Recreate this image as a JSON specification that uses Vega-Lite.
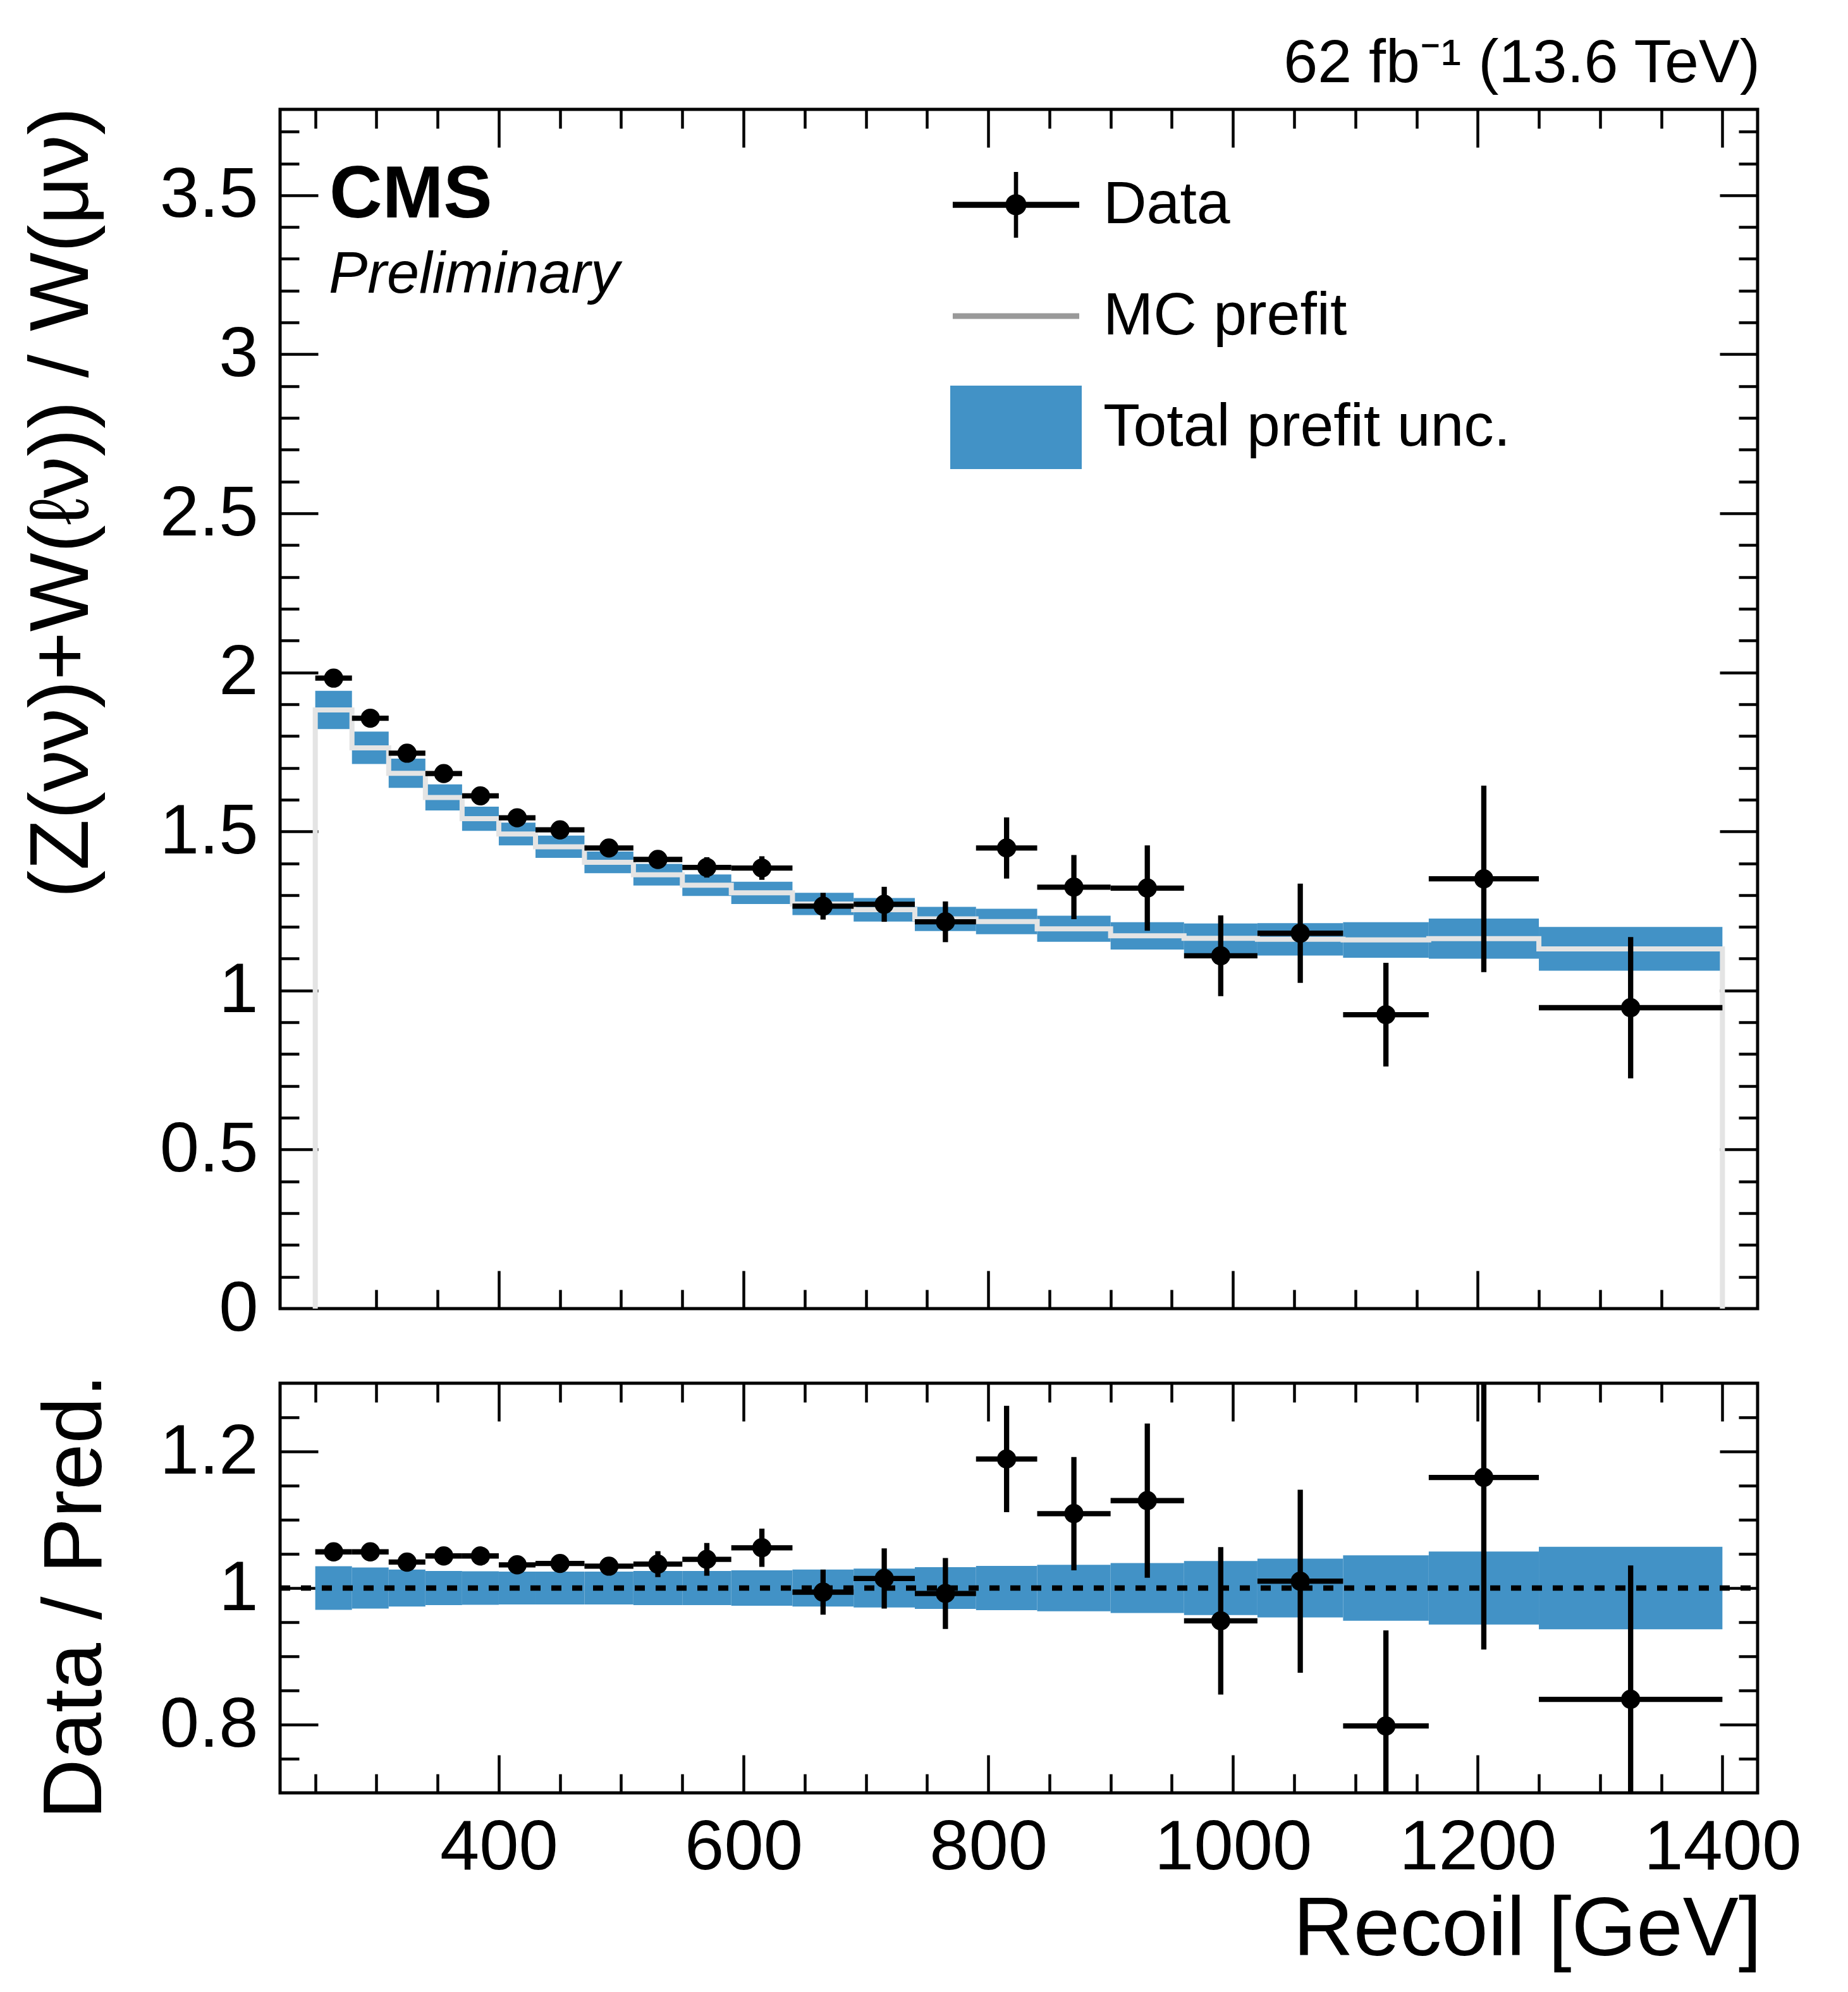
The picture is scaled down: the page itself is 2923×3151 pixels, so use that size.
{
  "$schema": "https://vega.github.io/schema/vega-lite/v6.json",
  "description": "Recoil distribution ratio (Z(nunu)+W(lnu))/W(munu) with data/prediction panel",
  "background": "white",
  "padding": {"left": 29, "top": 49, "right": 5, "bottom": 5},
  "config": {
    "font": "Liberation Sans",
    "view": {"stroke": "black", "strokeWidth": 5},
    "axis": {
      "grid": false, "domain": false, "tickColor": "black", "tickWidth": 4.5,
      "labelColor": "black", "titleColor": "black", "labelFont": "Liberation Sans", "titleFont": "Liberation Sans",
      "labelFontSize": 112, "titleFontSize": 132, "titleFontWeight": "normal", "labelFlush": false, "labelOverlap": false,
      "labelLimit": 0, "titleLimit": 0
    }
  },
  "datasets": {
    "bins": [
      {"lo":250,"hi":280,"x":265,"d":1.982,"dlo":1.974,"dhi":1.990,"p":1.882,"plo":1.822,"phi":1.942,"r":1.053,"rlo":1.049,"rhi":1.057,"ulo":0.968,"uhi":1.032},
      {"lo":280,"hi":310,"x":295,"d":1.856,"dlo":1.847,"dhi":1.865,"p":1.763,"plo":1.712,"phi":1.814,"r":1.053,"rlo":1.048,"rhi":1.058,"ulo":0.970,"uhi":1.030},
      {"lo":310,"hi":340,"x":325,"d":1.746,"dlo":1.736,"dhi":1.756,"p":1.683,"plo":1.637,"phi":1.729,"r":1.038,"rlo":1.032,"rhi":1.044,"ulo":0.973,"uhi":1.027},
      {"lo":340,"hi":370,"x":355,"d":1.682,"dlo":1.671,"dhi":1.693,"p":1.607,"plo":1.566,"phi":1.648,"r":1.047,"rlo":1.040,"rhi":1.054,"ulo":0.975,"uhi":1.025},
      {"lo":370,"hi":400,"x":385,"d":1.612,"dlo":1.600,"dhi":1.624,"p":1.540,"plo":1.502,"phi":1.578,"r":1.047,"rlo":1.039,"rhi":1.055,"ulo":0.9755,"uhi":1.0245},
      {"lo":400,"hi":430,"x":415,"d":1.543,"dlo":1.529,"dhi":1.557,"p":1.492,"plo":1.456,"phi":1.528,"r":1.034,"rlo":1.025,"rhi":1.043,"ulo":0.976,"uhi":1.024},
      {"lo":430,"hi":470,"x":450,"d":1.505,"dlo":1.490,"dhi":1.520,"p":1.452,"plo":1.417,"phi":1.487,"r":1.036,"rlo":1.026,"rhi":1.046,"ulo":0.976,"uhi":1.024},
      {"lo":470,"hi":510,"x":490,"d":1.448,"dlo":1.431,"dhi":1.465,"p":1.403,"plo":1.369,"phi":1.437,"r":1.032,"rlo":1.020,"rhi":1.044,"ulo":0.976,"uhi":1.024},
      {"lo":510,"hi":550,"x":530,"d":1.412,"dlo":1.386,"dhi":1.438,"p":1.364,"plo":1.330,"phi":1.398,"r":1.035,"rlo":1.016,"rhi":1.054,"ulo":0.975,"uhi":1.025},
      {"lo":550,"hi":590,"x":570,"d":1.387,"dlo":1.355,"dhi":1.419,"p":1.331,"plo":1.297,"phi":1.365,"r":1.042,"rlo":1.018,"rhi":1.066,"ulo":0.975,"uhi":1.025},
      {"lo":590,"hi":640,"x":615,"d":1.385,"dlo":1.348,"dhi":1.422,"p":1.307,"plo":1.272,"phi":1.342,"r":1.059,"rlo":1.031,"rhi":1.087,"ulo":0.974,"uhi":1.026},
      {"lo":640,"hi":690,"x":665,"d":1.265,"dlo":1.223,"dhi":1.307,"p":1.272,"plo":1.237,"phi":1.307,"r":0.994,"rlo":0.961,"rhi":1.027,"ulo":0.973,"uhi":1.027},
      {"lo":690,"hi":740,"x":715,"d":1.271,"dlo":1.216,"dhi":1.326,"p":1.254,"plo":1.217,"phi":1.291,"r":1.014,"rlo":0.970,"rhi":1.058,"ulo":0.9715,"uhi":1.0285},
      {"lo":740,"hi":790,"x":765,"d":1.216,"dlo":1.152,"dhi":1.280,"p":1.225,"plo":1.187,"phi":1.263,"r":0.992,"rlo":0.940,"rhi":1.044,"ulo":0.9695,"uhi":1.0305},
      {"lo":790,"hi":840,"x":815,"d":1.448,"dlo":1.352,"dhi":1.544,"p":1.217,"plo":1.177,"phi":1.257,"r":1.189,"rlo":1.111,"rhi":1.267,"ulo":0.9675,"uhi":1.0325},
      {"lo":840,"hi":900,"x":870,"d":1.325,"dlo":1.224,"dhi":1.426,"p":1.194,"plo":1.153,"phi":1.235,"r":1.109,"rlo":1.026,"rhi":1.192,"ulo":0.966,"uhi":1.034},
      {"lo":900,"hi":960,"x":930,"d":1.322,"dlo":1.188,"dhi":1.456,"p":1.172,"plo":1.129,"phi":1.215,"r":1.128,"rlo":1.015,"rhi":1.241,"ulo":0.9635,"uhi":1.0365},
      {"lo":960,"hi":1020,"x":990,"d":1.109,"dlo":0.982,"dhi":1.236,"p":1.164,"plo":1.117,"phi":1.211,"r":0.952,"rlo":0.844,"rhi":1.060,"ulo":0.9605,"uhi":1.0395},
      {"lo":1020,"hi":1090,"x":1055,"d":1.180,"dlo":1.024,"dhi":1.336,"p":1.161,"plo":1.110,"phi":1.212,"r":1.010,"rlo":0.876,"rhi":1.144,"ulo":0.957,"uhi":1.043},
      {"lo":1090,"hi":1160,"x":1125,"d":0.924,"dlo":0.761,"dhi":1.087,"p":1.159,"plo":1.103,"phi":1.215,"r":0.798,"rlo":0.658,"rhi":0.938,"ulo":0.952,"uhi":1.048},
      {"lo":1160,"hi":1250,"x":1205,"d":1.351,"dlo":1.058,"dhi":1.644,"p":1.163,"plo":1.100,"phi":1.226,"r":1.162,"rlo":0.910,"rhi":1.414,"ulo":0.9465,"uhi":1.0535},
      {"lo":1250,"hi":1400,"x":1325,"d":0.946,"dlo":0.724,"dhi":1.168,"p":1.131,"plo":1.062,"phi":1.200,"r":0.837,"rlo":0.641,"rhi":1.033,"ulo":0.9395,"uhi":1.0605}
    ],
    "mc": [
      {"i":0,"x":250,"y":0},
      {"i":1,"x":250,"y":1.882},
      {"i":2,"x":280,"y":1.763},
      {"i":3,"x":310,"y":1.683},
      {"i":4,"x":340,"y":1.607},
      {"i":5,"x":370,"y":1.540},
      {"i":6,"x":400,"y":1.492},
      {"i":7,"x":430,"y":1.452},
      {"i":8,"x":470,"y":1.403},
      {"i":9,"x":510,"y":1.364},
      {"i":10,"x":550,"y":1.331},
      {"i":11,"x":590,"y":1.307},
      {"i":12,"x":640,"y":1.272},
      {"i":13,"x":690,"y":1.254},
      {"i":14,"x":740,"y":1.225},
      {"i":15,"x":790,"y":1.217},
      {"i":16,"x":840,"y":1.194},
      {"i":17,"x":900,"y":1.172},
      {"i":18,"x":960,"y":1.164},
      {"i":19,"x":1020,"y":1.161},
      {"i":20,"x":1090,"y":1.159},
      {"i":21,"x":1160,"y":1.163},
      {"i":22,"x":1250,"y":1.131},
      {"i":23,"x":1400,"y":1.131},
      {"i":24,"x":1400,"y":0}
    ]
  },
  "resolve": {"scale": {"x": "independent", "y": "independent"}, "legend": {"color": "independent"}},
  "spacing": 41,
  "vconcat": [
    {
      "width": 2337,
      "height": 1897,
      "title": {
        "text": "62 fb⁻¹ (13.6 TeV)", "anchor": "end", "frame": "group", "orient": "top",
        "offset": -58, "dx": 4, "baseline": "alphabetic", "fontSize": 97, "fontWeight": "normal",
        "font": "Liberation Sans", "color": "black"
      },
      "resolve": {"axis": {"x": "independent", "y": "independent"}},
      "layer": [
        {
          "data": {"name": "bins"},
          "mark": {"type": "rect"},
          "encoding": {
            "x": {"field": "lo", "type": "quantitative", "scale": {"domain": [221.25, 1428.75], "nice": false, "zero": false},
                  "axis": {"orient": "bottom", "values": [400, 600, 800, 1000, 1200, 1400], "labels": false, "tickSize": -60, "title": null}},
            "x2": {"field": "hi"},
            "y": {"field": "plo", "type": "quantitative", "scale": {"domain": [0, 3.77], "nice": false, "zero": false},
                  "axis": {"orient": "left", "values": [0, 0.5, 1, 1.5, 2, 2.5, 3, 3.5], "ticks": false, "labelPadding": 35, "format": "~g",
                           "title": "(Z(νν)+W(ℓν)) / W(μν)", "titleAnchor": "end", "titleAngle": 270, "titleAlign": "right",
                           "titleBaseline": "alphabetic", "titleX": -305, "titleY": -4}},
            "y2": {"field": "phi"},
            "color": {
              "datum": "Total prefit unc.", "type": "nominal",
              "scale": {"domain": ["Data", "MC prefit", "Total prefit unc."], "range": ["black", "#999999", "#4292c6"]},
              "legend": {
                "title": null, "orient": "none", "legendX": 1060, "legendY": 63, "padding": 0,
                "symbolSize": 43264, "symbolStrokeWidth": 0, "clipHeight": 176, "rowPadding": 0, "labelOffset": 34,
                "labelFont": "Liberation Sans", "labelFontSize": 95, "labelColor": "black", "labelLimit": 0,
                "encode": {
                  "symbols": {
                    "update": {
                      "shape": {"signal": "datum.value === 'Data' ? 'M-0.962,-0.045L0.962,-0.045L0.962,0.045L-0.962,0.045ZM-0.032,-0.5L0.032,-0.5L0.032,0.5L-0.032,0.5ZM0.16,0A0.16,0.16,0,1,1,-0.16,0A0.16,0.16,0,1,1,0.16,0Z' : datum.value === 'MC prefit' ? 'M-0.962,-0.043L0.962,-0.043L0.962,0.043L-0.962,0.043Z' : 'M-1,-0.635L1,-0.635L1,0.635L-1,0.635Z'"},
                      "fill": {"signal": "datum.value === 'Data' ? 'black' : datum.value === 'MC prefit' ? '#999999' : '#4292c6'"},
                      "stroke": {"value": "transparent"},
                      "strokeWidth": {"value": 0},
                      "opacity": {"value": 1},
                      "size": {"value": 43264}
                    }
                  }
                }
              }
            }
          }
        },
        {
          "data": {"name": "mc"},
          "mark": {"type": "line", "interpolate": "step-after", "strokeWidth": 8},
          "encoding": {
            "x": {"field": "x", "type": "quantitative",
                  "axis": {"orient": "bottom", "values": [250, 300, 350, 450, 500, 550, 650, 700, 750, 850, 900, 950, 1050, 1100, 1150, 1250, 1300, 1350], "labels": false, "tickSize": -30, "title": null}},
            "y": {"field": "y", "type": "quantitative",
                  "axis": {"orient": "left", "values": [0.5, 1, 1.5, 2, 2.5, 3, 3.5], "labels": false, "tickSize": -60, "title": null}},
            "order": {"field": "i"},
            "color": {"datum": "MC prefit", "type": "nominal"},
            "stroke": {"value": "#e4e4e4"}
          }
        },
        {
          "data": {"name": "bins"},
          "mark": {"type": "rule", "strokeWidth": 8.3, "color": "black"},
          "encoding": {
            "x": {"field": "lo", "type": "quantitative",
                  "axis": {"orient": "top", "values": [400, 600, 800, 1000, 1200, 1400], "labels": false, "tickSize": -60, "title": null}},
            "x2": {"field": "hi"},
            "y": {"field": "d", "type": "quantitative",
                  "axis": {"orient": "left", "values": [0.1, 0.2, 0.3, 0.4, 0.6, 0.7, 0.8, 0.9, 1.1, 1.2, 1.3, 1.4, 1.6, 1.7, 1.8, 1.9, 2.1, 2.2, 2.3, 2.4, 2.6, 2.7, 2.8, 2.9, 3.1, 3.2, 3.3, 3.4, 3.6, 3.7], "labels": false, "tickSize": -30, "title": null}}
          }
        },
        {
          "data": {"name": "bins"},
          "mark": {"type": "rule", "strokeWidth": 8.3, "color": "black"},
          "encoding": {
            "x": {"field": "x", "type": "quantitative",
                  "axis": {"orient": "top", "values": [250, 300, 350, 450, 500, 550, 650, 700, 750, 850, 900, 950, 1050, 1100, 1150, 1250, 1300, 1350], "labels": false, "tickSize": -30, "title": null}},
            "y": {"field": "dlo", "type": "quantitative",
                  "axis": {"orient": "right", "values": [0.5, 1, 1.5, 2, 2.5, 3, 3.5], "labels": false, "tickSize": -60, "title": null}},
            "y2": {"field": "dhi"}
          }
        },
        {
          "data": {"name": "bins"},
          "mark": {"type": "point", "filled": true, "size": 920, "opacity": 1, "shape": "circle"},
          "encoding": {
            "x": {"field": "x", "type": "quantitative", "axis": null},
            "y": {"field": "d", "type": "quantitative",
                  "axis": {"orient": "right", "values": [0.1, 0.2, 0.3, 0.4, 0.6, 0.7, 0.8, 0.9, 1.1, 1.2, 1.3, 1.4, 1.6, 1.7, 1.8, 1.9, 2.1, 2.2, 2.3, 2.4, 2.6, 2.7, 2.8, 2.9, 3.1, 3.2, 3.3, 3.4, 3.6, 3.7], "labels": false, "tickSize": -30, "title": null}},
            "color": {"datum": "Data", "type": "nominal"}
          }
        },
        {
          "data": {"values": [{"label": "CMS"}]},
          "mark": {"type": "text", "font": "Liberation Sans", "fontWeight": "bold", "fontSize": 116, "align": "left", "baseline": "alphabetic", "color": "black"},
          "encoding": {
            "text": {"field": "label"},
            "x": {"datum": 261.5, "type": "quantitative", "axis": null},
            "y": {"datum": 3.431, "type": "quantitative", "axis": null}
          }
        },
        {
          "data": {"values": [{"label": "Preliminary"}]},
          "mark": {"type": "text", "font": "Liberation Sans", "fontStyle": "italic", "fontSize": 92, "align": "left", "baseline": "alphabetic", "color": "black"},
          "encoding": {
            "text": {"field": "label"},
            "x": {"datum": 261, "type": "quantitative", "axis": null},
            "y": {"datum": 3.194, "type": "quantitative", "axis": null}
          }
        }
      ]
    },
    {
      "width": 2337,
      "height": 648,
      "resolve": {"axis": {"x": "independent", "y": "independent"}},
      "layer": [
        {
          "data": {"name": "bins"},
          "mark": {"type": "rect", "color": "#4292c6"},
          "encoding": {
            "x": {"field": "lo", "type": "quantitative", "scale": {"domain": [221.25, 1428.75], "nice": false, "zero": false},
                  "axis": {"orient": "bottom", "values": [400, 600, 800, 1000, 1200, 1400], "ticks": false, "format": "d",
                           "labelPadding": 120, "labelBaseline": "alphabetic",
                           "title": "Recoil [GeV]", "titleAnchor": "end", "titleAlign": "right", "titleBaseline": "alphabetic",
                           "titleX": 2343, "titleY": 256}},
            "x2": {"field": "hi"},
            "y": {"field": "ulo", "type": "quantitative", "scale": {"domain": [0.7, 1.3], "nice": false, "zero": false},
                  "axis": {"orient": "left", "values": [0.8, 1, 1.2], "ticks": false, "labelPadding": 35, "format": "~g",
                           "title": "Data / Pred.", "titleAnchor": "end", "titleAngle": 270, "titleAlign": "right",
                           "titleBaseline": "alphabetic", "titleX": -284, "titleY": -15}},
            "y2": {"field": "uhi"}
          }
        },
        {
          "data": {"values": [{"ref": 1}]},
          "mark": {"type": "rule", "color": "black", "strokeWidth": 8.5, "strokeDash": [16, 17]},
          "encoding": {
            "x": {"datum": 221.25, "type": "quantitative",
                  "axis": {"orient": "bottom", "values": [400, 600, 800, 1000, 1200, 1400], "labels": false, "tickSize": -60, "title": null}},
            "x2": {"datum": 1428.75},
            "y": {"field": "ref", "type": "quantitative",
                  "axis": {"orient": "left", "values": [0.8, 1, 1.2], "labels": false, "tickSize": -60, "title": null}}
          }
        },
        {
          "data": {"name": "bins"},
          "mark": {"type": "rule", "strokeWidth": 8.3, "color": "black", "clip": true},
          "encoding": {
            "x": {"field": "lo", "type": "quantitative",
                  "axis": {"orient": "bottom", "values": [250, 300, 350, 450, 500, 550, 650, 700, 750, 850, 900, 950, 1050, 1100, 1150, 1250, 1300, 1350], "labels": false, "tickSize": -30, "title": null}},
            "x2": {"field": "hi"},
            "y": {"field": "r", "type": "quantitative",
                  "axis": {"orient": "left", "values": [0.75, 0.85, 0.9, 0.95, 1.05, 1.1, 1.15, 1.25], "labels": false, "tickSize": -30, "title": null}}
          }
        },
        {
          "data": {"name": "bins"},
          "mark": {"type": "rule", "strokeWidth": 8.3, "color": "black", "clip": true},
          "encoding": {
            "x": {"field": "x", "type": "quantitative",
                  "axis": {"orient": "top", "values": [400, 600, 800, 1000, 1200, 1400], "labels": false, "tickSize": -60, "title": null}},
            "y": {"field": "rlo", "type": "quantitative",
                  "axis": {"orient": "right", "values": [0.8, 1, 1.2], "labels": false, "tickSize": -60, "title": null}},
            "y2": {"field": "rhi"}
          }
        },
        {
          "data": {"name": "bins"},
          "mark": {"type": "point", "filled": true, "size": 920, "opacity": 1, "shape": "circle", "color": "black"},
          "encoding": {
            "x": {"field": "x", "type": "quantitative",
                  "axis": {"orient": "top", "values": [250, 300, 350, 450, 500, 550, 650, 700, 750, 850, 900, 950, 1050, 1100, 1150, 1250, 1300, 1350], "labels": false, "tickSize": -30, "title": null}},
            "y": {"field": "r", "type": "quantitative",
                  "axis": {"orient": "right", "values": [0.75, 0.85, 0.9, 0.95, 1.05, 1.1, 1.15, 1.25], "labels": false, "tickSize": -30, "title": null}}
          }
        }
      ]
    }
  ]
}
